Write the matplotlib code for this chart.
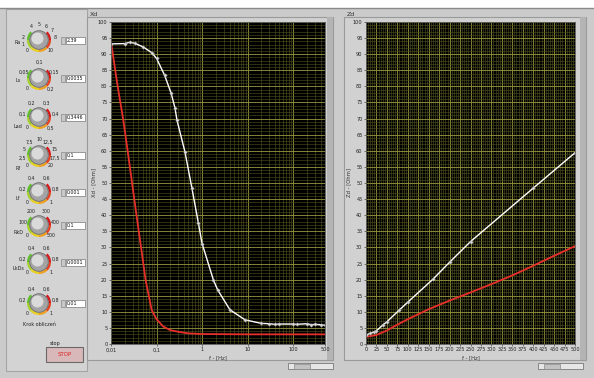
import numpy as np
import matplotlib
matplotlib.use('Agg')
import matplotlib.pyplot as plt
from matplotlib.patches import Rectangle, Circle, Wedge
from matplotlib.ticker import FixedLocator, NullFormatter

# dane - wykres Xd (os logarytmiczna)
f_xd_white = [0.01, 0.02, 0.026, 0.033, 0.05, 0.078, 0.1, 0.15, 0.21, 0.255, 0.28, 0.42, 0.6, 0.83,
              1.0, 1.77, 2.2, 4.1, 8.8, 20, 30, 40, 50, 100, 120, 200, 250, 300, 400, 500]
xd_white = [93.2, 93.3, 93.7, 93.4, 92.3, 90.5, 88.7, 83.5, 77.8, 73.2, 69.6, 59.7, 48.3, 37.5,
            31.2, 19.9, 16.8, 10.6, 7.5, 6.4, 6.3, 6.1, 6.2, 6.2, 6.1, 6.3, 6.0, 6.1, 6.0, 5.8]
f_xd_red = [0.01, 0.014, 0.0186, 0.0232, 0.029, 0.0363, 0.0457, 0.0573, 0.078, 0.1, 0.141, 0.2,
            0.3, 0.5, 1.0, 10, 100, 500]
xd_red = [93.9, 80.0, 69.6, 60.0, 50.0, 40.0, 30.0, 20.0, 10.6, 7.7, 5.4, 4.3,
          3.8, 3.3, 3.1, 3.0, 3.0, 3.0]

# dane - wykres Zd (os liniowa)
f_zd_white = [0, 10, 20, 25, 40, 50, 80, 100, 160, 200, 250, 400, 500]
zd_white = [2.8, 3.3, 3.8, 4.1, 5.9, 6.9, 10.6, 13.0, 20.1, 25.4, 31.8, 48.4, 59.4]
f_zd_red = [0, 25, 50, 75, 100, 150, 200, 250, 300, 350, 400, 450, 500]
zd_red = [2.2, 2.8, 4.2, 6.0, 7.7, 10.8, 13.5, 16.0, 18.6, 21.3, 24.3, 27.4, 30.4]

xd_xticks = [0.01, 0.1, 1, 10, 100, 500]
xd_xlabels = ['0,01', '0,1', '1', '10', '100', '500']
zd_xticks = list(range(0, 501, 25))
y_ticks = list(range(0, 101, 5))

# pokretla (nazwa, etykiety skali, wartosc w polu)
knob_names = ['Ra', 'Ls', 'Lad', 'Rf', 'Lf', 'RkD', 'LkDs', 'Krok obliczeń']
knob_scales = [
    ['0', '1', '2', '', '4', '5', '6', '7', '8', '', '10'],
    ['0', '0,05', '0,1', '0,15', '0,2'],
    ['0', '0,1', '0,2', '0,3', '0,4', '0,5'],
    ['0', '2,5', '5', '7,5', '10', '12,5', '15', '17,5', '20'],
    ['0', '0,2', '0,4', '0,6', '0,8', '1'],
    ['0', '100', '200', '300', '400', '500'],
    ['0', '0,2', '0,4', '0,6', '0,8', '1'],
    ['0', '0,2', '0,4', '0,6', '0,8', '1'],
]
knob_values = ['2,39', '0,0035', '0,3446', '0,1', '0,001', '0,1', '0,0001', '0,01']
knob_y = [40, 78, 117, 155, 192, 225, 262, 303]
name_dy = [3, 3, 10, 13, 7, 8, 7, 22]

W, H = 594, 378
fig = plt.figure(figsize=(W / 100, H / 100), dpi=100)
fig.patch.set_facecolor('#cbcbcb')

# tlo w pikselach
bg = fig.add_axes([0, 0, 1, 1], zorder=-1)
bg.set_xlim(0, W)
bg.set_ylim(H, 0)
bg.axis('off')

bg.add_patch(Rectangle((0, 0), W, 7, color='white'))
bg.plot([0, W], [7.5, 7.5], color='#8a8a8a', lw=1)
# panel sterowania
bg.add_patch(Rectangle((6, 9), 81, 362, facecolor='#d3d3d3', edgecolor='#a5a5a5', lw=0.8))
# ramki wykresow
for x0, x1 in [(87, 333), (344, 586)]:
    bg.add_patch(Rectangle((x0, 17), x1 - x0, 343, facecolor='#d1d1d1', edgecolor='#9a9a9a', lw=0.8))
    bg.add_patch(Rectangle((x1 - 6, 17), 6, 343, facecolor='#b4b4b4', edgecolor='none'))
bg.text(90, 14, 'Xd', fontsize=4.5, va='center', color='#333333')
bg.text(347, 14, 'Zd', fontsize=4.5, va='center', color='#333333')

# paski przewijania
for x0 in [288, 538]:
    bg.add_patch(Rectangle((x0, 363), 45, 6, facecolor='#e6e6e6', edgecolor='#7a7a7a', lw=0.6))
    bg.add_patch(Rectangle((x0 + 6, 363.5), 16, 5, facecolor='#c2c2c2', edgecolor='#8a8a8a', lw=0.5))

# pokretla
cx = 39
cols = ['#5fbf2a', '#a6d02a', '#e8d020', '#f0a020', '#e84020', '#d81818']
for name, scale, val, ky, dy in zip(knob_names, knob_scales, knob_values, knob_y, name_dy):
    # kolorowy luk: zielony -> zolty -> czerwony
    n = len(cols)
    for i, c in enumerate(cols):
        t1 = 225 - 270 * i / n
        t2 = 225 - 270 * (i + 1) / n
        bg.add_patch(Wedge((cx, ky), 12, t2, t1, width=2.4, color=c, lw=0))
    bg.add_patch(Circle((cx, ky), 9.3, facecolor='#a4a4a4', edgecolor='#6a6a6a', lw=0.6))
    bg.add_patch(Circle((cx - 1.5, ky - 1.5), 6, facecolor='#dadada', edgecolor='none'))
    ns = len(scale)
    for i, lab in enumerate(scale):
        ang = np.deg2rad(225 - 270 * i / (ns - 1))
        bg.text(cx + 16.5 * np.cos(ang), ky - 15.5 * np.sin(ang), lab, fontsize=3.4,
                ha='center', va='center', color='#222222')
    if name == 'Krok obliczeń':
        bg.text(cx, ky + dy, name, fontsize=3.5, ha='center', va='center', color='#222222')
    else:
        bg.text(18, ky + dy, name, fontsize=3.5, ha='center', va='center', color='#222222')
    # pole numeryczne
    bg.add_patch(Rectangle((61, ky - 3), 3.5, 7, facecolor='#c8c8c8', edgecolor='#777777', lw=0.4))
    bg.add_patch(Rectangle((66, ky - 3.5), 19, 7.5, facecolor='white', edgecolor='#777777', lw=0.5))
    bg.text(67, ky + 0.3, val, fontsize=3.4, va='center', color='#111111')

# przycisk STOP
bg.text(55, 343, 'stop', fontsize=3.6, ha='center', va='center', color='#222222')
bg.add_patch(Rectangle((46, 347), 37, 15, facecolor='#d8b8b8', edgecolor='#6a6a6a', lw=0.8))
bg.text(64.5, 354.5, 'STOP', fontsize=4, ha='center', va='center', color='#e02020')


def style_axes(ax):
    ax.set_facecolor('#000000')
    ax.set_ylim(0, 100)
    ax.set_yticks(y_ticks)
    ax.set_yticklabels([str(v) for v in y_ticks])
    ax.yaxis.set_minor_locator(FixedLocator(np.arange(0, 101, 1)))
    ax.grid(which='major', color='#9a9a40', lw=0.6)
    ax.grid(which='minor', color='#525222', lw=0.4)
    ax.set_axisbelow(True)
    ax.tick_params(which='both', labelsize=3.6, length=1.5, width=0.4, pad=1, colors='#222222')
    ax.tick_params(which='minor', length=0)
    for s in ax.spines.values():
        s.set_color('#555555')
        s.set_linewidth(0.6)


ax1 = fig.add_axes([111 / W, 1 - 344 / H, 214 / W, 322 / H])
ax1.set_xscale('log')
ax1.set_xlim(0.01, 500)
style_axes(ax1)
ax1.set_xticks(xd_xticks)
ax1.set_xticklabels(xd_xlabels)
minor = [m * 10.0 ** d for d in range(-2, 3) for m in range(2, 10) if m * 10.0 ** d < 500]
ax1.xaxis.set_minor_locator(FixedLocator(minor))
ax1.xaxis.set_minor_formatter(NullFormatter())
ax1.plot(f_xd_red, xd_red, color='#e8302a', lw=1.3)
ax1.plot(f_xd_white, xd_white, color='white', lw=1.0, marker='D', ms=1.8,
         mfc='#dddddd', mec='#999999', mew=0.3)
ax1.set_xlabel('f - [Hz]', fontsize=3.8, labelpad=2, color='#333333')
ax1.set_ylabel('Xd - [Ohm]', fontsize=3.8, labelpad=1, color='#333333')

ax2 = fig.add_axes([366 / W, 1 - 344 / H, 209 / W, 322 / H])
ax2.set_xlim(0, 500)
style_axes(ax2)
ax2.set_xticks(zd_xticks)
ax2.set_xticklabels([str(v) for v in zd_xticks])
ax2.xaxis.set_minor_locator(FixedLocator(np.arange(0, 501, 5)))
ax2.plot(f_zd_red, zd_red, color='#e8302a', lw=1.3)
ax2.plot(f_zd_white, zd_white, color='white', lw=1.0, marker='D', ms=1.8,
         mfc='#dddddd', mec='#999999', mew=0.3)
ax2.set_xlabel('f - [Hz]', fontsize=3.8, labelpad=2, color='#333333')
ax2.set_ylabel('Zd - [Ohm]', fontsize=3.8, labelpad=1, color='#333333')

fig.savefig('out.png', dpi=100, facecolor=fig.get_facecolor())
